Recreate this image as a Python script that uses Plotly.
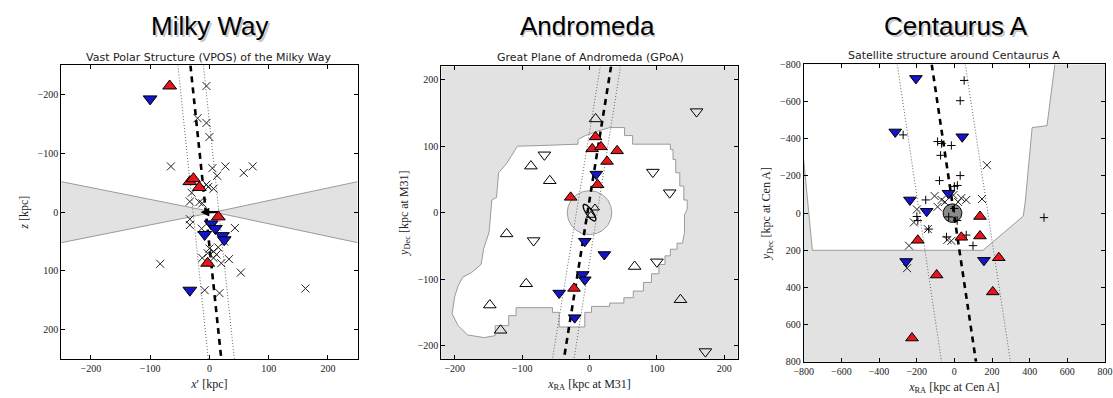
import numpy as np
import plotly.graph_objects as go

W, H = 1113, 398

# ---------------- Milky Way (VPOS) ----------------
mw_cross_x = [-5, -20, -5, 0, -65, 5, 27, 13, 58, 73, -2, 7, -30, -33, -17, -12, -33, -33, -13, 43,
              25, 0, 7, 12, -12, 7, 33, 20, -83, 53, -8, 17, 162, -5, -3, 15]
mw_cross_z = [-215, -160, -152, -128, -78, -75, -78, -62, -67, -78, -43, -40, -33, -18, -17, -15, 12, 22, 28, 27,
              50, 62, 67, 72, 78, 78, 80, 87, 88, 103, 133, 138, 130, -47, 70, 60]
mw_red_x = [-67, -33, -27, -17, 15, -3]
mw_red_z = [-215, -52, -57, -42, 8, 87]
mw_blue_x = [-100, 3, 10, -8, 22, 25, -33]
mw_blue_z = [-193, 20, 28, 38, 40, 47, 133]
mw_plane_x = [-32, 20]
mw_plane_z = [-250, 250]
mw_plane_lo_x = [-53, -2]
mw_plane_hi_x = [-10, 42]
mw_wedge_l_x = [-250, 8, -250]
mw_wedge_r_x = [250, 8, 250]
mw_wedge_z = [-52, 0, 52]
mw_arrow_x = [17, -15]
mw_ticks = [-200, -100, 0, 100, 200]

# ---------------- Andromeda (GPoA) ----------------
m31_red_x = [9, 4, 17, 41, 26, 12, -28, -23]
m31_red_y = [114, 96, 99, 93, 77, 42, 23, -114]
m31_blue_x = [10, -7, 22, -10, -7, -45, -22]
m31_blue_y = [58, -43, -63, -93, -101, -121, -158]
m31_up_x = [9, -87, -59, -123, 67, -94, -148, 135, -132]
m31_up_y = [141, 70, 48, -32, -81, -107, -139, -131, -177]
m31_down_x = [159, -67, 94, 119, -83, 100, 172]
m31_down_y = [152, 87, 61, 30, -42, -74, -209]
m31_inner_x = [8, 2]
m31_inner_y = [7, -4]
m31_foot_x = [64, 120, 120, 124, 124, 128, 128, 134, 134, 140, 140, 145, 145, 141, 141, 138, 130, 130, 120, 120,
              112, 112, 103, 103, 92, 92, 80, 80, 65, 65, 51, 51, 30, 30, 3, 3, -7, -7, -45, -45,
              -55, -55, -109, -109, -120, -120, -140, -140, -156, -181, -195, -204, -200, -195, -188, -175, -161,
              -157, -149, -145, -138, -135, -123, -107, -71, -17, -17, -6, 10, 30, 52, 52, 64, 64]
m31_foot_y = [103, 103, 95, 95, 80, 80, 60, 60, 40, 40, 19, 19, 5, -3, -30, -46, -46, -55, -55, -65,
              -65, -78, -78, -92, -92, -105, -105, -118, -118, -128, -128, -136, -136, -141, -141, -150, -150, -172, -172, -150,
              -150, -143, -143, -155, -155, -170, -170, -185, -188, -184, -170, -152, -126, -110, -97, -90, -78,
              -54, -29, 19, 23, 60, 74, 100, 101, 103, 110, 116, 122, 128, 128, 116, 116, 103]
m31_halo_r = 33
m31_plane_x = [32, -38]
m31_plane_y = [220, -220]
m31_plane_lo_x = [16, -55]
m31_plane_hi_x = [46, -23]
m31_ticks = [-200, -100, 0, 100, 200]

# ---------------- Centaurus A ----------------
cena_red_x = [136, -194, 37, 136, 236, -94, 204, -225]
cena_red_y = [18, 146, 130, 123, 240, 333, 424, 672]
cena_blue_x = [-204, -314, 42, -31, -236, -147, -256, 157]
cena_blue_y = [-725, -437, -411, -107, -71, -10, 260, 254]
cena_cross_x = [173, -105, -89, -68, -5, 37, 63, 147, -199, -215, -141, -37, -16, -241, -251, -50, 20]
cena_cross_y = [-258, -92, -34, -71, -97, -81, -71, -76, -20, 50, 86, 144, 149, 175, 296, -60, -60]
cena_plus_x = [52, 31, -272, -89, -68, -16, -73, -79, 31, 0, 16, -152, -199, -194, -136, 0, -42, 63, 99, 476, -30, 15]
cena_plus_y = [-714, -605, -421, -385, -375, -364, -311, -175, -202, -144, -149, -71, 18, 40, 86, -25, 128, 118, 175, 24, 20, 40]
cena_foot_x = [-848, -805, -754, 152, 366, 377, 413, 492, 540, -848]
cena_foot_y = [-850, -340, 200, 200, 16, -66, -460, -471, -850, -850]
cena_core_x, cena_core_r = -10, 50
cena_plane_x = [-120, 115]
cena_plane_y = [-800, 800]
cena_plane_lo_x = [-303, -68]
cena_plane_hi_x = [58, 298]
cena_ticks = [-800, -600, -400, -200, 0, 200, 400, 600, 800]

RED, BLUE = "#e8141c", "#1414c8"
GREY_BG, GREY_EDGE = "#e2e2e2", "#9a9a9a"
SERIF = "Liberation Serif"
theta = np.linspace(0, 2 * np.pi, 120)

fig = go.Figure()


def add(x, y, ax, **kw):
    xa = "x" if ax == 1 else f"x{ax}"
    ya = "y" if ax == 1 else f"y{ax}"
    fig.add_trace(go.Scatter(x=x, y=y, xaxis=xa, yaxis=ya, showlegend=False, hoverinfo="skip", **kw))


def plane_lines(ax, cx, cy, lox, hix, ylist):
    for xs in (lox, hix):
        add(xs, ylist, ax, mode="lines", line=dict(color="#666", width=1, dash="1px,2px"))
    add(cx, cy, ax, mode="lines", line=dict(color="black", width=2.6, dash="6px,5px"))


def sats(ax, rx, ry, bx, by, size=11):
    add(rx, ry, ax, mode="markers",
        marker=dict(symbol="triangle-up", size=size, color=RED, line=dict(color="black", width=1)))
    add(bx, by, ax, mode="markers",
        marker=dict(symbol="triangle-down", size=size, color=BLUE, line=dict(color="black", width=1)))


# ---- Panel 1
for wx in (mw_wedge_l_x, mw_wedge_r_x):
    add(wx, mw_wedge_z, 1, mode="lines", fill="toself", fillcolor=GREY_BG,
        line=dict(color=GREY_EDGE, width=1))
plane_lines(1, mw_plane_x, mw_plane_z, mw_plane_lo_x, mw_plane_hi_x, mw_plane_z)
add(mw_cross_x, mw_cross_z, 1, mode="markers",
    marker=dict(symbol="x-thin-open", size=8, color="#222", line=dict(width=1, color="#222")))
sats(1, mw_red_x, mw_red_z, mw_blue_x, mw_blue_z, 12)

# ---- Panel 2
add(m31_foot_x, m31_foot_y, 2, mode="lines", fill="toself", fillcolor="white",
    line=dict(color=GREY_EDGE, width=1))
add(list(m31_halo_r * np.cos(theta)), list(m31_halo_r * np.sin(theta)), 2, mode="lines", fill="toself",
    fillcolor="rgba(190,190,190,0.45)", line=dict(color=GREY_EDGE, width=1))
ang = np.deg2rad(-55)
ex = 15 * np.cos(theta) * np.cos(ang) - 5 * np.sin(theta) * np.sin(ang)
ey = 15 * np.cos(theta) * np.sin(ang) + 5 * np.sin(theta) * np.cos(ang)
add(list(ex), list(ey), 2, mode="lines", line=dict(color="black", width=1.3))
add(m31_inner_x, m31_inner_y, 2, mode="markers",
    marker=dict(symbol="triangle-up-open", size=8, color="black", line=dict(width=1)))
plane_lines(2, m31_plane_x, m31_plane_y, m31_plane_lo_x, m31_plane_hi_x, m31_plane_y)
add(m31_up_x, m31_up_y, 2, mode="markers",
    marker=dict(symbol="triangle-up-open", size=11, color="black", line=dict(width=1)))
add(m31_down_x, m31_down_y, 2, mode="markers",
    marker=dict(symbol="triangle-down-open", size=11, color="black", line=dict(width=1)))
sats(2, m31_red_x, m31_red_y, m31_blue_x, m31_blue_y, 11)

# ---- Panel 3
add(cena_foot_x, cena_foot_y, 3, mode="lines", fill="toself", fillcolor="white",
    line=dict(color=GREY_EDGE, width=1))
add(list(cena_core_x + cena_core_r * np.cos(theta)), list(cena_core_r * np.sin(theta)), 3, mode="lines",
    fill="toself", fillcolor="#8a8a8a", line=dict(color="black", width=1))
plane_lines(3, cena_plane_x, cena_plane_y, cena_plane_lo_x, cena_plane_hi_x, cena_plane_y)
add(cena_cross_x, cena_cross_y, 3, mode="markers",
    marker=dict(symbol="x-thin-open", size=8, color="#222", line=dict(width=1, color="#222")))
add(cena_plus_x, cena_plus_y, 3, mode="markers",
    marker=dict(symbol="cross-thin-open", size=6, color="black", line=dict(width=1, color="black")))
sats(3, cena_red_x, cena_red_y, cena_blue_x, cena_blue_y, 11)


def axis(dom, rng, ticks, title, anchor):
    return dict(domain=dom, range=rng, tickvals=ticks, ticks="inside", ticklen=4, tickcolor="black",
                mirror="allticks", showline=True, linecolor="black", linewidth=1, showgrid=False,
                zeroline=False, anchor=anchor, tickfont=dict(family=SERIF, size=10, color="#222"),
                ticklabeloverflow="allow",
                title=dict(text=title, font=dict(family=SERIF, size=12, color="#222"), standoff=6))


def xd(a, b):
    return [a / W, b / W]


def yd(top, bot):
    return [(H - bot) / H, (H - top) / H]


layout = dict(
    width=W, height=H, margin=dict(l=0, r=0, t=0, b=0), paper_bgcolor="white", plot_bgcolor="white",
    xaxis=axis(xd(52, 353), [-250, 250], mw_ticks, "<i>x</i>′ [kpc]", "y"),
    yaxis=axis(yd(62, 363), [250, -250], mw_ticks, "<i>z</i> [kpc]", "x"),
    xaxis2=axis(xd(438, 739), [-220, 220], m31_ticks, "<i>x</i><sub>RA</sub> [kpc at M31]", "y2"),
    yaxis2=axis(yd(63, 363), [-220, 220], m31_ticks, "<i>y</i><sub>Dec</sub> [kpc at M31]", "x2"),
    xaxis3=axis(xd(806, 1112), [-800, 800], cena_ticks, "<i>x</i><sub>RA</sub> [kpc at Cen A]", "y3"),
    yaxis3=axis(yd(61, 366), [800, -800], cena_ticks, "<i>y</i><sub>Dec</sub> [kpc at Cen A]", "x3"),
)
fig.update_layout(**layout)

for ax in (2, 3):
    fig.add_shape(type="rect", xref=f"x{ax} domain", yref=f"y{ax} domain", x0=0, x1=1, y0=0, y1=1,
                  fillcolor=GREY_BG, line=dict(width=0), layer="below")

fig.add_annotation(x=-15, y=0, ax=17, ay=0, xref="x", yref="y", axref="x", ayref="y",
                   showarrow=True, arrowhead=2, arrowsize=0.8, arrowwidth=2.2, arrowcolor="black", text="")

big_titles = [("Milky Way", 203, 22), ("Andromeda", 586, 22), ("Centaurus A", 961, 22)]
for txt, cx, cy in big_titles:
    fig.add_annotation(x=(cx + 1.5) / W, y=1 - (cy + 2) / H, xref="paper", yref="paper", text=txt,
                       xanchor="center", yanchor="middle", showarrow=False,
                       font=dict(family="Liberation Sans", size=26, color="rgba(0,0,0,0.22)"))
    fig.add_annotation(x=cx / W, y=1 - cy / H, xref="paper", yref="paper", text=txt, showarrow=False,
                       xanchor="center", yanchor="middle",
                       font=dict(family="Liberation Sans", size=26, color="black"))

sub_titles = [("Vast Polar Structure (VPOS) of the Milky Way", 202, 54),
              ("Great Plane of Andromeda (GPoA)", 589, 54),
              ("Satellite structure around Centaurus A", 959, 52)]
for txt, cx, cy in sub_titles:
    fig.add_annotation(x=cx / W, y=1 - cy / H, xref="paper", yref="paper", text=txt, showarrow=False,
                       xanchor="center", yanchor="middle",
                       font=dict(family="DejaVu Sans", size=11, color="#222"))

fig.write_html("out.html")
